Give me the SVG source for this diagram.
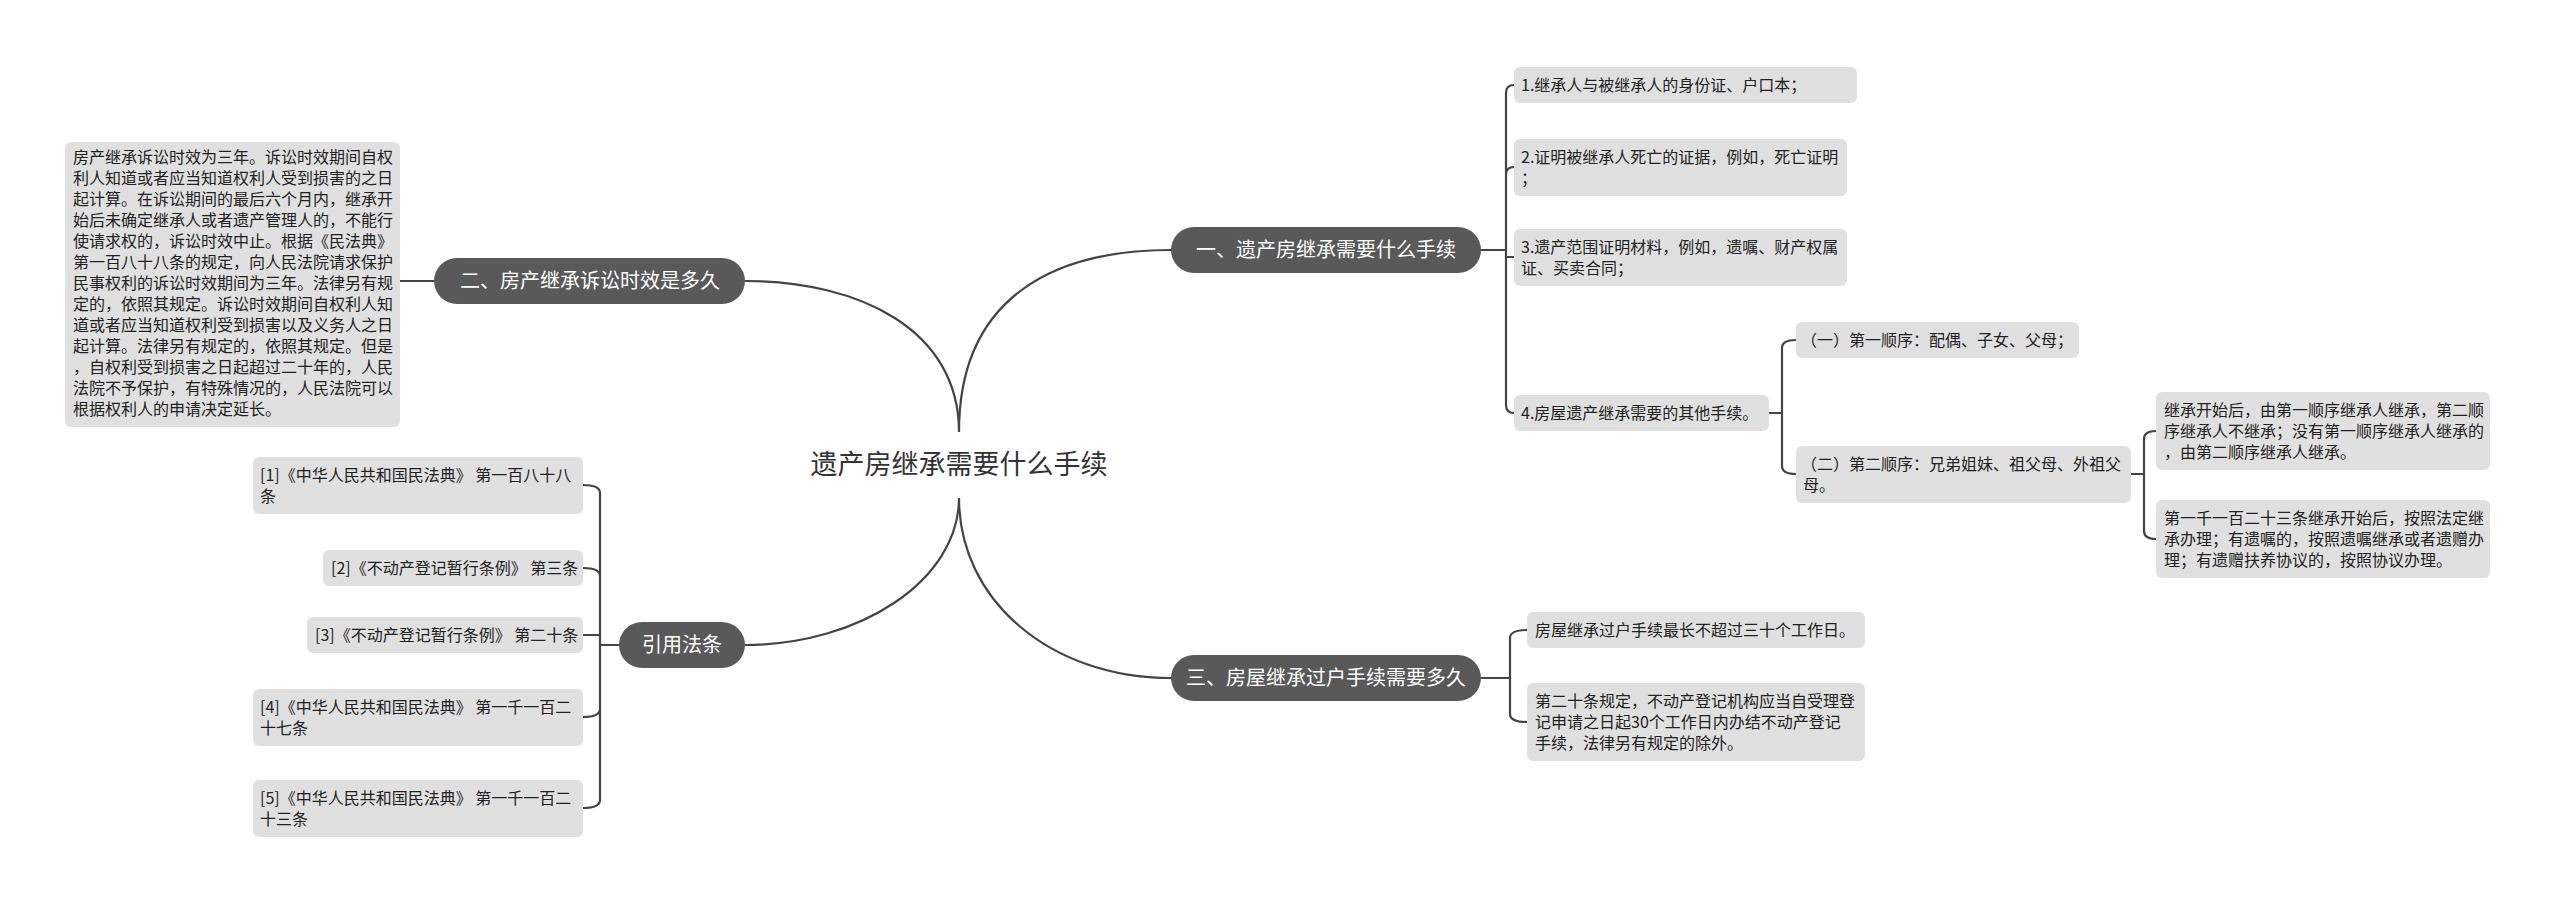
<svg xmlns="http://www.w3.org/2000/svg" width="2560" height="904" viewBox="0 0 2560 904">
<style>
text{font-family:"Noto Sans CJK SC","Liberation Sans",sans-serif;}
.b{fill:#e0e0e0;}
.t{font-size:16px;fill:#222;}
.n{fill:#595959;}
.nt{font-size:20px;fill:#fff;text-anchor:middle;}
.c{fill:none;stroke:#444;stroke-width:2.2;}
</style>
<rect width="2560" height="904" fill="#fff"/>
<g id="connectors">
<path class="c" d="M959 432 C959 300 1050 250 1171 250"/>
<path class="c" d="M959 498 C959 600 1050 678 1171 678"/>
<path class="c" d="M959 432 C959 330 860 281 745 281"/>
<path class="c" d="M959 498 C959 580 860 645 745 645"/>
<path class="c" d="M434 281 H400"/>
<path class="c" d="M1481 250 H1506 M1506 250 V93 Q1506 85 1514 85 M1506 250 V175 Q1506 167 1514 167 M1506 250 V257 H1514 M1506 250 V405 Q1506 413 1514 413"/>
<path class="c" d="M1769 413 H1782 M1782 413 V348 Q1782 340 1796 340 M1782 413 V466 Q1782 474 1796 474"/>
<path class="c" d="M2131 474 H2144 M2144 474 V439 Q2144 431 2156 431 M2144 474 V531 Q2144 539 2156 539"/>
<path class="c" d="M1481 678 H1510 M1510 678 V638 Q1510 630 1527 630 M1510 678 V714 Q1510 722 1527 722"/>
<path class="c" d="M619 645 H600 M600 645 V493 Q600 485 583 485 M600 645 V576 Q600 568 583 568 M600 645 V635 H583 M600 645 V709 Q600 717 583 717 M600 645 V800 Q600 808 583 808"/>
</g>
<g id="root"><text x="959" y="474" font-size="27" fill="#333" text-anchor="middle">遗产房继承需要什么手续</text></g>
<g id="n1"><rect class="n" x="1171" y="227" width="310" height="46" rx="23"/><text class="nt" x="1326" y="257">一、遗产房继承需要什么手续</text></g>
<g id="n2"><rect class="n" x="434" y="258" width="311" height="46" rx="23"/><text class="nt" x="590" y="288">二、房产继承诉讼时效是多久</text></g>
<g id="n3"><rect class="n" x="1171" y="655" width="310" height="46" rx="23"/><text class="nt" x="1326" y="685">三、房屋继承过户手续需要多久</text></g>
<g id="n4"><rect class="n" x="619" y="622" width="126" height="46" rx="23"/><text class="nt" x="682" y="652">引用法条</text></g>
<g id="a1"><rect class="b" x="1514" y="67" width="343" height="36" rx="6"/><text class="t" x="1521" y="91">1.继承人与被继承人的身份证、户口本；</text></g>
<g id="a2"><rect class="b" x="1514" y="139" width="333" height="57" rx="6"/><text class="t" x="1521" y="163">2.证明被继承人死亡的证据，例如，死亡证明</text><text class="t" x="1521" y="184">；</text></g>
<g id="a3"><rect class="b" x="1514" y="229" width="333" height="57" rx="6"/><text class="t" x="1521" y="253">3.遗产范围证明材料，例如，遗嘱、财产权属</text><text class="t" x="1521" y="274">证、买卖合同；</text></g>
<g id="a4"><rect class="b" x="1514" y="395" width="255" height="36" rx="6"/><text class="t" x="1521" y="419">4.房屋遗产继承需要的其他手续。</text></g>
<g id="a41"><rect class="b" x="1796" y="322" width="283" height="36" rx="6"/><text class="t" x="1801" y="346">（一）第一顺序：配偶、子女、父母；</text></g>
<g id="a42"><rect class="b" x="1796" y="446" width="335" height="57" rx="6"/><text class="t" x="1801" y="470">（二）第二顺序：兄弟姐妹、祖父母、外祖父</text><text class="t" x="1803" y="491">母。</text></g>
<g id="a421"><rect class="b" x="2156" y="392" width="334" height="78" rx="6"/><text class="t" x="2164" y="416">继承开始后，由第一顺序继承人继承，第二顺</text><text class="t" x="2164" y="437">序继承人不继承；没有第一顺序继承人继承的</text><text class="t" x="2164" y="458">，由第二顺序继承人继承。</text></g>
<g id="a422"><rect class="b" x="2156" y="500" width="334" height="78" rx="6"/><text class="t" x="2164" y="524">第一千一百二十三条继承开始后，按照法定继</text><text class="t" x="2164" y="545">承办理；有遗嘱的，按照遗嘱继承或者遗赠办</text><text class="t" x="2164" y="566">理；有遗赠扶养协议的，按照协议办理。</text></g>
<g id="b1"><rect class="b" x="65" y="142" width="335" height="285" rx="6"/>
<text class="t" x="73" y="163">房产继承诉讼时效为三年。诉讼时效期间自权</text>
<text class="t" x="73" y="184">利人知道或者应当知道权利人受到损害的之日</text>
<text class="t" x="73" y="205">起计算。在诉讼期间的最后六个月内，继承开</text>
<text class="t" x="73" y="226">始后未确定继承人或者遗产管理人的，不能行</text>
<text class="t" x="73" y="247">使请求权的，诉讼时效中止。根据《民法典》</text>
<text class="t" x="73" y="268">第一百八十八条的规定，向人民法院请求保护</text>
<text class="t" x="73" y="289">民事权利的诉讼时效期间为三年。法律另有规</text>
<text class="t" x="73" y="310">定的，依照其规定。诉讼时效期间自权利人知</text>
<text class="t" x="73" y="331">道或者应当知道权利受到损害以及义务人之日</text>
<text class="t" x="73" y="352">起计算。法律另有规定的，依照其规定。但是</text>
<text class="t" x="73" y="373">，自权利受到损害之日起超过二十年的，人民</text>
<text class="t" x="73" y="394">法院不予保护，有特殊情况的，人民法院可以</text>
<text class="t" x="73" y="415">根据权利人的申请决定延长。</text></g>
<g id="c1"><rect class="b" x="1527" y="612" width="338" height="36" rx="6"/><text class="t" x="1535" y="636">房屋继承过户手续最长不超过三十个工作日。</text></g>
<g id="c2"><rect class="b" x="1527" y="683" width="338" height="78" rx="6"/><text class="t" x="1535" y="707">第二十条规定，不动产登记机构应当自受理登</text><text class="t" x="1535" y="728">记申请之日起30个工作日内办结不动产登记</text><text class="t" x="1535" y="749">手续，法律另有规定的除外。</text></g>
<g id="d1"><rect class="b" x="253" y="457" width="330" height="57" rx="6"/><text class="t" x="260" y="481">[1]《中华人民共和国民法典》 第一百八十八</text><text class="t" x="260" y="502">条</text></g>
<g id="d2"><rect class="b" x="323" y="550" width="260" height="36" rx="6"/><text class="t" x="331" y="574">[2]《不动产登记暂行条例》 第三条</text></g>
<g id="d3"><rect class="b" x="307" y="617" width="276" height="36" rx="6"/><text class="t" x="315" y="641">[3]《不动产登记暂行条例》 第二十条</text></g>
<g id="d4"><rect class="b" x="253" y="689" width="330" height="57" rx="6"/><text class="t" x="260" y="713">[4]《中华人民共和国民法典》 第一千一百二</text><text class="t" x="260" y="734">十七条</text></g>
<g id="d5"><rect class="b" x="253" y="780" width="330" height="57" rx="6"/><text class="t" x="260" y="804">[5]《中华人民共和国民法典》 第一千一百二</text><text class="t" x="260" y="825">十三条</text></g>
</svg>
